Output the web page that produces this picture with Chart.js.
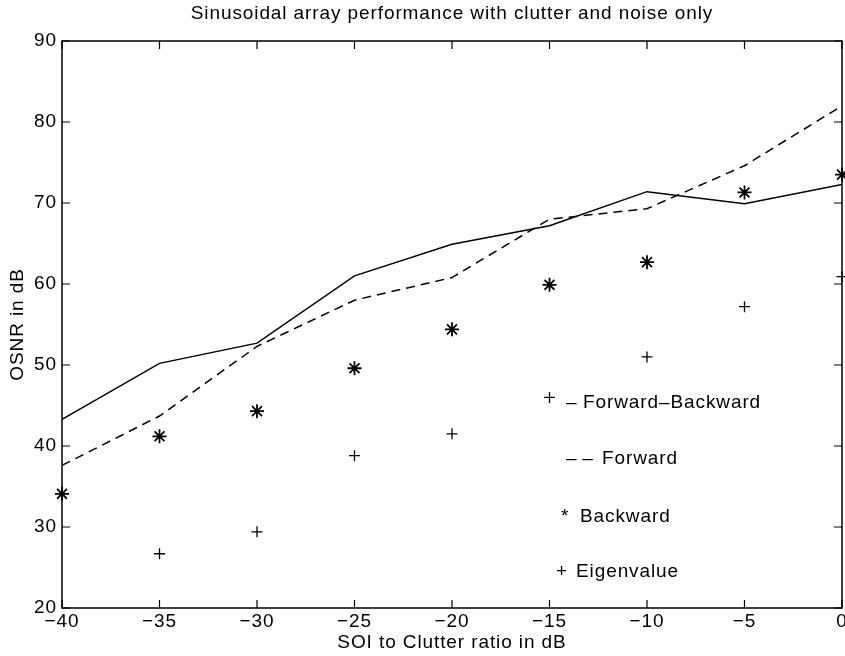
<!DOCTYPE html>
<html>
<head>
<meta charset="utf-8">
<script src="https://cdn.jsdelivr.net/npm/chart.js@4.4.0/dist/chart.umd.min.js"></script>
<style>
  html, body { margin: 0; padding: 0; background: #fff; }
  #wrap { width: 845px; height: 656px; }
</style>
</head>
<body>
<div id="wrap"><canvas id="c" width="845" height="656"></canvas></div>
<script>
// ---- data ----
const xValues   = [-40, -35, -30, -25, -20, -15, -10, -5, 0];
const fbValues  = [43.3, 50.2, 52.7, 61.0, 64.9, 67.2, 71.4, 69.9, 72.3];   // Forward–Backward (solid)
const fwdValues = [37.6, 43.7, 52.3, 58.0, 60.8, 68.0, 69.3, 74.6, 82.0];   // Forward (dashed)
const bwValues  = [34.1, 41.2, 44.3, 49.6, 54.4, 59.9, 62.7, 71.3, 73.5];   // Backward (*)
const eigValues = [null, 26.7, 29.4, 38.8, 41.5, 46.0, 51.0, 57.2, 60.9];   // Eigenvalue (+)
const xTicks = [-40, -35, -30, -25, -20, -15, -10, -5, 0];
const yTicks = [20, 30, 40, 50, 60, 70, 80, 90];
const xTickLabels = ['\u221240', '\u221235', '\u221230', '\u221225', '\u221220', '\u221215', '\u221210', '\u22125', '0'];
const titleText = 'Sinusoidal array performance with clutter and noise only';
const xTitle = 'SOI to Clutter ratio in dB';
const yTitle = 'OSNR in dB';
const legendItems = [
  { mark: '–',  label: 'Forward–Backward' },
  { mark: '–\u2009–', label: 'Forward' },
  { mark: '*',  label: 'Backward' },
  { mark: '+',  label: 'Eigenvalue' }
];

const FONT = 'Liberation Sans, Arial, Helvetica, sans-serif';
const SPACING = '0.9px';
const toPts = arr => xValues.map((x, i) => ({ x: x, y: arr[i] })).filter(p => p.y !== null);

// slightly widened text, as in the reference
const spacingPlugin = {
  id: 'spacing',
  beforeDraw(chart) { chart.ctx.letterSpacing = SPACING; }
};

// title over the plot, frame, inward ticks on all four sides, x tick labels, in-plot legend text
const framePlugin = {
  id: 'frame',
  afterDraw(chart) {
    const { ctx, chartArea: a, scales } = chart;
    const L = 8;
    ctx.save();
    ctx.strokeStyle = '#000';
    ctx.lineWidth = 1.5;
    ctx.strokeRect(a.left, a.top, a.right - a.left, a.bottom - a.top);
    ctx.lineWidth = 1.2;
    ctx.beginPath();
    xTicks.forEach(v => {
      const px = scales.x.getPixelForValue(v);
      ctx.moveTo(px, a.bottom); ctx.lineTo(px, a.bottom - L);
      ctx.moveTo(px, a.top);    ctx.lineTo(px, a.top + L);
    });
    yTicks.forEach(v => {
      const py = scales.y.getPixelForValue(v);
      ctx.moveTo(a.left, py);  ctx.lineTo(a.left + L, py);
      ctx.moveTo(a.right, py); ctx.lineTo(a.right - L, py);
    });
    ctx.stroke();

    ctx.fillStyle = '#000';
    ctx.font = '19px ' + FONT;
    ctx.letterSpacing = SPACING;

    // title centred over the plot area
    ctx.textAlign = 'center';
    ctx.textBaseline = 'middle';
    ctx.fillText(titleText, (a.left + a.right) / 2, a.top - 27);

    // x tick labels
    ctx.textBaseline = 'top';
    xTicks.forEach((v, i) => {
      ctx.fillText(xTickLabels[i], scales.x.getPixelForValue(v), a.bottom + 4);
    });

    // legend text placed inside the plot
    ctx.textBaseline = 'middle';
    ctx.textAlign = 'left';
    const ox = a.left, oy = a.top;
    const pos = [
      { mx: 504, tx: 521, y: 362 },
      { mx: 504, tx: 540, y: 418 },
      { mx: 499, tx: 518, y: 476 },
      { mx: 494, tx: 514, y: 531 }
    ];
    legendItems.forEach((it, i) => {
      const p = pos[i];
      ctx.fillText(it.mark, ox + p.mx, oy + p.y);
      ctx.fillText(it.label, ox + p.tx, oy + p.y);
    });
    ctx.restore();
  }
};

new Chart(document.getElementById('c'), {
  type: 'scatter',
  data: {
    datasets: [
      { label: 'Forward–Backward', data: toPts(fbValues), showLine: true,
        borderColor: '#000', borderWidth: 1.5, pointRadius: 0, fill: false },
      { label: 'Forward', data: toPts(fwdValues), showLine: true,
        borderColor: '#000', borderWidth: 1.5, borderDash: [9, 6], pointRadius: 0, fill: false },
      { label: 'Backward', data: toPts(bwValues), showLine: false, clip: false,
        pointStyle: 'star', pointRadius: 7, pointBorderWidth: 1.8,
        pointBorderColor: '#000', pointBackgroundColor: '#000' },
      { label: 'Eigenvalue', data: toPts(eigValues), showLine: false, clip: false,
        pointStyle: 'cross', pointRadius: 5.5, pointBorderWidth: 1.3,
        pointBorderColor: '#000', pointBackgroundColor: '#000' }
    ]
  },
  options: {
    responsive: false,
    animation: false,
    devicePixelRatio: 1,
    layout: { autoPadding: false, padding: { top: 41, right: 3, left: 0, bottom: 0 } },
    plugins: {
      legend: { display: false },
      tooltip: { enabled: false },
      title: { display: false }
    },
    scales: {
      x: {
        type: 'linear', min: -40, max: 0,
        afterBuildTicks: s => { s.ticks = xTicks.map(v => ({ value: v })); },
        afterFit: s => { s.height = 48; },
        grid: { display: false, drawTicks: false },
        border: { display: false },
        ticks: { display: false },
        title: { display: true, text: xTitle, color: '#000',
          font: { family: FONT, size: 19 }, padding: { top: 0, bottom: 2 } }
      },
      y: {
        type: 'linear', min: 20, max: 90,
        afterBuildTicks: s => { s.ticks = yTicks.map(v => ({ value: v })); },
        afterFit: s => { s.width = 62; },
        grid: { display: false, drawTicks: false },
        border: { display: false },
        ticks: { color: '#000', padding: 5, autoSkip: false,
          font: { family: FONT, size: 19 } },
        title: { display: true, text: yTitle, color: '#000',
          font: { family: FONT, size: 19 }, padding: { top: 6, bottom: 0 } }
      }
    }
  },
  plugins: [spacingPlugin, framePlugin]
});
</script>
</body>
</html>
